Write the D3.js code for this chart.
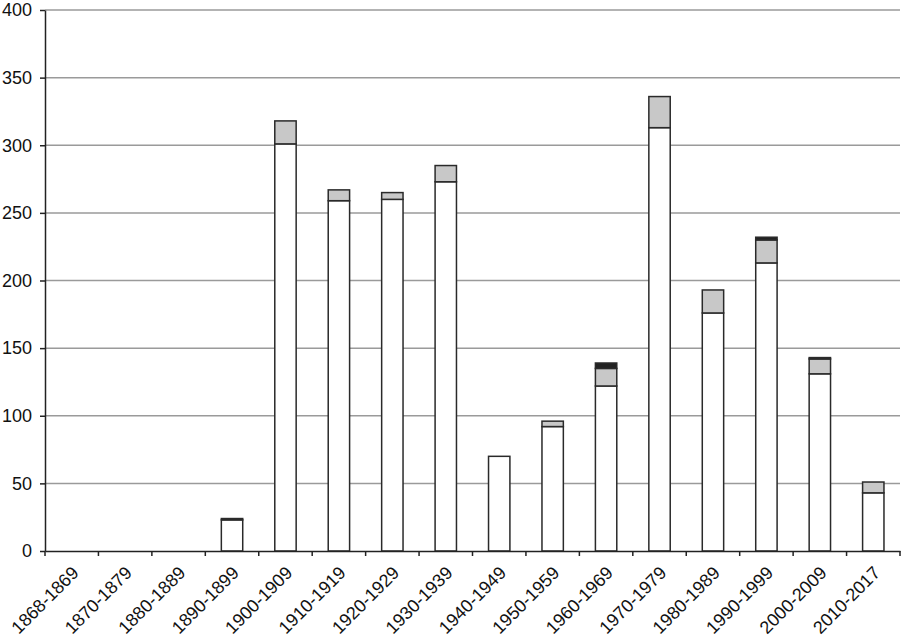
<!DOCTYPE html>
<html lang="en">
<head>
<meta charset="utf-8">
<title>Stacked bars by decade</title>
<script src="https://cdn.jsdelivr.net/npm/d3@7"></script>
<style>
  body { margin: 0; background: #fff; }
  text { font-family: "Liberation Sans", Arial, sans-serif; fill: #111; }
</style>
</head>
<body>
<script>

var decades = ["1868-1869", "1870-1879", "1880-1889", "1890-1899", "1900-1909",
               "1910-1919", "1920-1929", "1930-1939", "1940-1949", "1950-1959",
               "1960-1969", "1970-1979", "1980-1989", "1990-1999", "2000-2009",
               "2010-2017"];

// three stacked series, bottom to top
var whitePart = [0, 0, 0, 23, 301, 259, 260, 273, 70, 92, 122, 313, 176, 213, 131, 43];
var grayPart  = [0, 0, 0, 0, 17, 8, 5, 12, 0, 4, 13, 23, 17, 17, 11, 8];
var blackPart = [0, 0, 0, 1, 0, 0, 0, 0, 0, 0, 4, 0, 0, 2, 1, 0];

var yTicks = [0, 50, 100, 150, 200, 250, 300, 350, 400];

var width = 901;
var height = 641;
var margin = {top: 10, right: 1, bottom: 90, left: 45};

var svg = d3.select("body").append("svg")
            .attr("width", width)
            .attr("height", height);

var x = d3.scaleBand()
          .domain(decades)
          .range([margin.left, width - margin.right])
          .paddingInner(0.6)
          .paddingOuter(0.3);

var y = d3.scaleLinear()
          .domain([0, 400])
          .range([height - margin.bottom, margin.top]);

// gridlines
svg.append("g")
   .selectAll("line")
   .data(yTicks.filter(function(d) { return d > 0; }))
   .enter()
   .append("line")
   .attr("x1", margin.left)
   .attr("x2", width - margin.right)
   .attr("y1", function(d) { return y(d); })
   .attr("y2", function(d) { return y(d); })
   .attr("stroke", "#9a9a9a")
   .attr("stroke-width", 1.5);

var rows = decades.map(function(d, i) {
  return {decade: d, white: whitePart[i], gray: grayPart[i], black: blackPart[i]};
});

var stack = d3.stack().keys(["white", "gray", "black"]);
var fills = {white: "#ffffff", gray: "#c8c8c8", black: "#222222"};

svg.append("g")
   .selectAll("g")
   .data(stack(rows))
   .enter()
   .append("g")
   .attr("fill", function(s) { return fills[s.key]; })
   .selectAll("rect")
   .data(function(s) { return s.filter(function(p) { return p[1] > p[0]; }); })
   .enter()
   .append("rect")
   .attr("x", function(p) { return x(p.data.decade); })
   .attr("width", x.bandwidth())
   .attr("y", function(p) { return y(p[1]); })
   .attr("height", function(p) { return y(p[0]) - y(p[1]); })
   .attr("stroke", "#2a2a2a")
   .attr("stroke-width", 1.5);

// y axis
var yAxis = svg.append("g")
   .attr("transform", "translate(" + margin.left + ",0)")
   .call(d3.axisLeft(y).tickValues(yTicks).tickSize(5).tickPadding(8).tickSizeOuter(0));
yAxis.selectAll("text").attr("font-size", 18).attr("fill", "#111");
yAxis.selectAll("line, path").attr("stroke", "#222").attr("stroke-width", 1.5);

// x axis
var xAxis = svg.append("g")
   .attr("transform", "translate(0," + y(0) + ")")
   .call(d3.axisBottom(x).tickSize(0).tickSizeOuter(0));
xAxis.select("path").attr("stroke", "#222").attr("stroke-width", 1.5);

// ticks between categories
xAxis.selectAll(".sep")
     .data(d3.range(decades.length + 1))
     .enter()
     .append("line")
     .attr("class", "sep")
     .attr("x1", function(i) { return margin.left + i * x.step(); })
     .attr("x2", function(i) { return margin.left + i * x.step(); })
     .attr("y1", 0)
     .attr("y2", 5)
     .attr("stroke", "#222")
     .attr("stroke-width", 1.5);

xAxis.selectAll(".tick text")
     .attr("font-size", 18)
     .attr("fill", "#111")
     .attr("text-anchor", "end")
     .attr("dy", null)
     .attr("y", 0)
     .attr("transform", "translate(8,23) rotate(-45)");

</script>
</body>
</html>
